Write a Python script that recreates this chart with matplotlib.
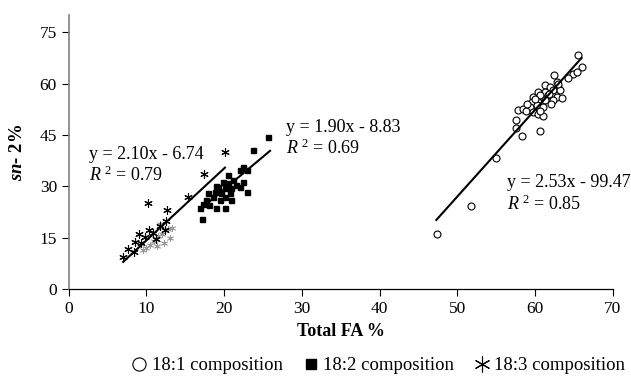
import numpy as np
import matplotlib
matplotlib.use('Agg')
import matplotlib.pyplot as plt

plt.rcParams['font.family'] = 'Liberation Serif'
plt.rcParams['mathtext.fontset'] = 'custom'
plt.rcParams['mathtext.rm'] = 'Liberation Serif'
plt.rcParams['mathtext.it'] = 'Liberation Serif:italic'
plt.rcParams['mathtext.bf'] = 'Liberation Serif:bold'
plt.rcParams['mathtext.bfit'] = 'Liberation Serif:italic:bold'

# 18:1 composition (open circles)
x181 = [65.5, 66.0, 64.9, 65.4, 62.5, 62.8, 61.3, 61.9, 62.9, 60.4, 61.3, 62.3,
        63.2, 59.8, 60.6, 61.7, 62.8, 63.5, 59.6, 60.4, 61.3, 62.3, 59.3, 60.2,
        61.0, 57.8, 58.5, 58.8, 59.8, 60.4, 61.0, 60.6, 57.6, 57.6, 55.0, 51.8,
        47.4, 60.7, 58.3, 61.8, 62.0, 63.0, 60.0, 59.0, 64.2]
y181 = [68.3, 64.9, 62.9, 63.4, 62.4, 60.5, 59.5, 59.0, 59.0, 57.6, 57.6, 58.1,
        58.1, 56.1, 56.6, 56.6, 56.1, 55.7, 54.7, 54.7, 55.2, 55.2, 53.2, 53.7,
        53.2, 52.2, 52.5, 52.0, 51.8, 51.1, 50.5, 52.0, 47.0, 49.3, 38.4, 24.2,
        16.0, 46.2, 44.6, 57.0, 54.0, 60.0, 55.5, 54.0, 61.5]

# 18:2 composition (filled squares)
x182 = [25.6, 23.7, 22.4, 22.0, 22.9, 20.5, 21.1, 22.4, 19.9, 20.5, 19.2, 20.1,
        20.9, 22.0, 18.8, 19.6, 20.7, 22.9, 17.9, 18.6, 20.1, 17.7, 19.4, 20.9,
        17.3, 18.1, 19.0, 20.1, 16.9, 17.1, 21.5, 19.0]
y182 = [44.5, 40.6, 35.7, 34.9, 34.7, 33.3, 31.8, 31.3, 31.3, 30.9, 29.9, 29.4,
        29.4, 29.9, 28.5, 28.0, 28.0, 28.5, 28.0, 27.0, 27.0, 26.0, 26.0, 26.0,
        25.0, 24.5, 23.6, 23.6, 23.6, 20.6, 30.5, 30.0]

# 18:3 composition (asterisks)
x183 = [20.1, 17.4, 15.4, 10.2, 12.6, 12.5, 11.7, 12.4, 10.3, 9.1, 9.8, 8.5,
        9.3, 7.6, 8.4, 7.0, 10.8, 11.2]
y183 = [40.1, 33.5, 26.9, 25.2, 23.0, 20.0, 18.4, 17.2, 17.4, 16.2, 15.1, 13.8,
        13.4, 11.6, 10.9, 9.4, 16.5, 14.5]
# overlapping faint 18:3 points in the dense cluster
x183f = [10.5, 11.0, 11.5, 12.0, 12.8, 13.0, 10.0, 11.3, 12.2, 9.5, 13.3, 11.8]
y183f = [13.0, 14.0, 15.5, 16.0, 17.5, 15.0, 12.0, 12.5, 13.5, 11.5, 18.0, 19.0]

# trend lines: slope, intercept, x range, label
fits = [(2.10, -6.74, 7.0, 20.1, 'y = 2.10x - 6.74', '0.79', 2.6, 39.3),
        (1.90, -8.83, 16.9, 25.9, 'y = 1.90x - 8.83', '0.69', 27.9, 47.2),
        (2.53, -99.47, 47.3, 66.0, 'y = 2.53x - 99.47', '0.85', 56.4, 31.0)]

fig = plt.figure(figsize=(6.31, 3.78), dpi=100)
ax = fig.add_axes([0.109, 0.235, 0.862, 0.725])

l1, = ax.plot(x181, y181, 'o', mfc='white', mec='black', ms=5, mew=0.8, ls='none')
l2, = ax.plot(x182, y182, 's', color='black', ms=3.6, ls='none')
ax.plot(x183f, y183f, marker=(6, 2, 0), color='#999999', ms=5, mew=0.6, ls='none')
l3, = ax.plot(x183, y183, marker=(6, 2, 0), color='black', ms=6, mew=0.8, ls='none')

for m, b, x0, x1, eq, r2, tx, ty in fits:
    xs = np.array([x0, x1])
    ax.plot(xs, m * xs + b, 'k-', lw=1.5)
    ax.text(tx, ty, eq, fontsize=13, va='center', ha='left')
    ax.text(tx, ty - 6.1, r'$R^{\ 2}$ = ' + r2, fontsize=13, va='center', ha='left')

ax.set_xlim(0, 70)
ax.set_ylim(0, 80)
ax.set_xticks(range(0, 71, 10))
ax.set_yticks(range(0, 76, 15))
ax.tick_params(labelsize=12.5, length=5, width=0.8, colors='black')
ax.spines['top'].set_visible(False)
ax.spines['right'].set_visible(False)
ax.spines['left'].set_color('#808080')
ax.spines['left'].set_linewidth(1.2)
ax.spines['bottom'].set_linewidth(0.9)

ax.set_xlabel('Total FA %', fontsize=13, fontweight='bold', labelpad=4)
ax.set_ylabel(r'$\mathbfit{sn}$- 2%', fontsize=13.5, fontweight='bold', labelpad=10)

leg = [(l1, '18:1 composition'), (l2, '18:2 composition'), (l3, '18:3 composition')]
fig.legend([h for h, _ in leg], [t for _, t in leg],
           loc='lower center', bbox_to_anchor=(0.600, -0.035), ncol=3, frameon=False,
           fontsize=13.5, handlelength=0.8, handletextpad=0.25, columnspacing=1.1,
           markerscale=1.9)

plt.savefig('out.png', dpi=100)
